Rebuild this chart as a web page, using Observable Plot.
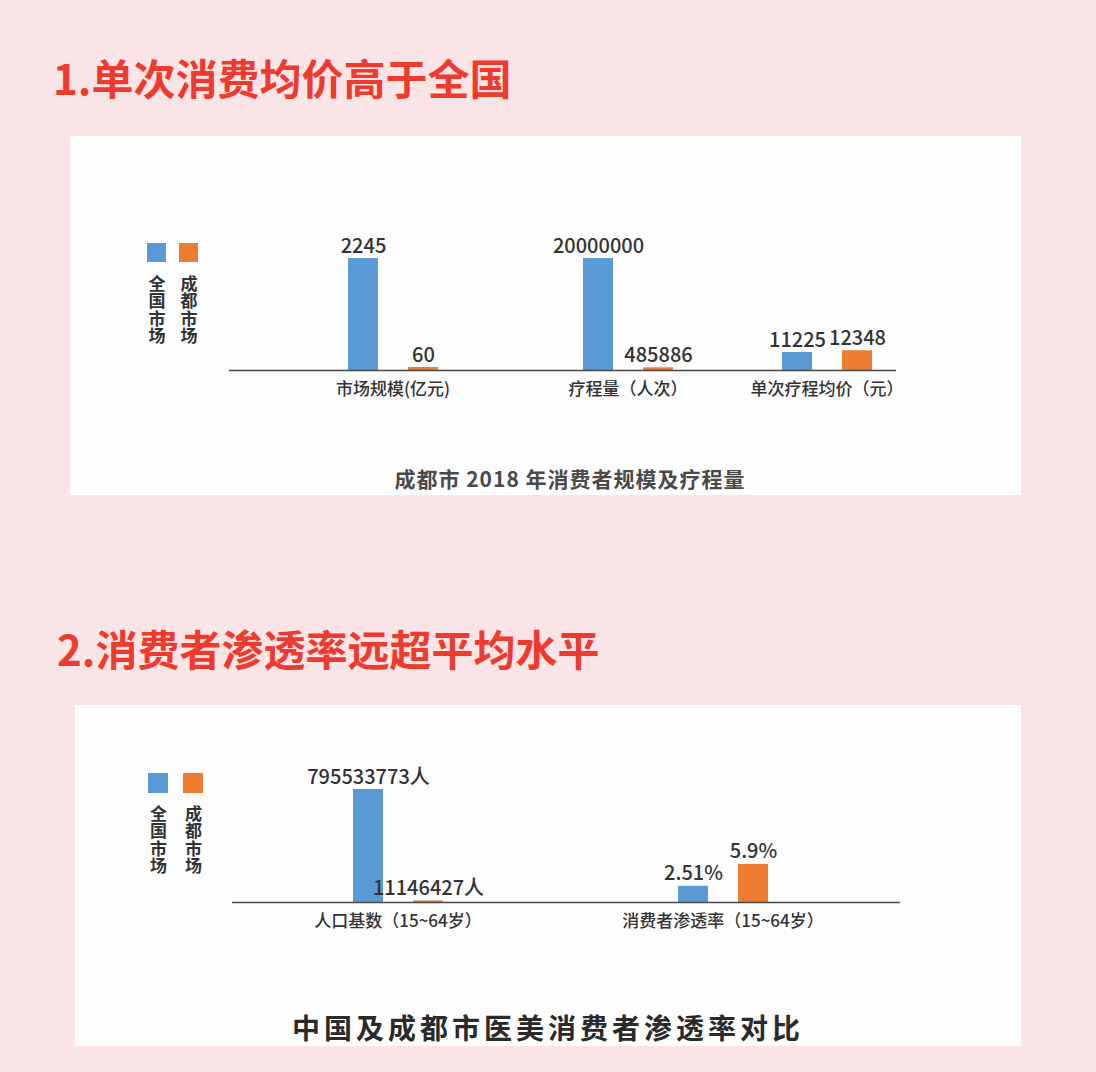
<!DOCTYPE html>
<html><head><meta charset="utf-8">
<script src="https://cdn.jsdelivr.net/npm/d3@7"></script>
<script src="https://cdn.jsdelivr.net/npm/@observablehq/plot@0.6"></script>
<style>
body{margin:0;background:#fae4e6;font-family:"Noto Sans CJK SC","Noto Sans",sans-serif;}
#page{position:relative;width:1096px;height:1072px;overflow:hidden;background:#fae4e6;}
.abs{position:absolute;}
.title{font-size:42px;font-weight:700;color:#ee3b2f;line-height:44px;white-space:nowrap;}
.panel{background:#fefdfd;}
.vt{writing-mode:vertical-rl;font-size:17px;font-weight:700;color:#333;letter-spacing:0.5px;line-height:18px;width:18px;}
.cap{text-align:center;color:#3a3a3a;white-space:nowrap;}
</style></head><body><div id="page"></div>
<script>
// ---- data ----
const series = ["全国市场", "成都市场"];
const colors = ["#5b9bd5", "#ed7d31"];

const titles = ["1.单次消费均价高于全国", "2.消费者渗透率远超平均水平"];
const captions = ["成都市 2018 年消费者规模及疗程量", "中国及成都市医美消费者渗透率对比"];

const categories1 = ["市场规模(亿元)", "疗程量（人次）", "单次疗程均价（元）"];
const national1 = [2245, 20000000, 11225];
const chengdu1 = [60, 485886, 12348];
const units1 = ["", "", ""];

const categories2 = ["人口基数（15~64岁）", "消费者渗透率（15~64岁）"];
const national2 = [795533773, 2.51];
const chengdu2 = [11146427, 5.9];
const units2 = ["人", "%"];

// per-group y-scale maxima (each group drawn on its own scale, as in the original)
const yMax1 = [2245, 20000000, 70000];
const yMax2 = [795533773, 17.5];

// ---- layout ----
const page = document.getElementById("page");
function div(cls, css, text) {
  const d = document.createElement("div");
  d.className = "abs " + cls;
  Object.assign(d.style, css);
  if (text != null) d.textContent = text;
  page.appendChild(d);
  return d;
}

div("title", {left: "53px", top: "55px"}, titles[0]);
div("title", {left: "57px", top: "626px"}, titles[1]);
div("panel", {left: "70px", top: "136px", width: "951px", height: "359px"});
div("panel", {left: "75px", top: "705px", width: "946px", height: "341px"});

function legend(x0, x1, y, size, textTop) {
  [x0, x1].forEach((x, i) => {
    div("", {left: x + "px", top: y + "px", width: size + "px", height: size + "px", background: colors[i]});
    div("vt", {left: (x + size / 2 - 9) + "px", top: textTop + "px"}, series[i]);
  });
}
legend(147, 179, 243, 19, 275);
legend(148, 183, 773, 20, 805);

div("cap", {left: "270px", top: "465px", width: "600px", fontSize: "21px", lineHeight: "26px", fontWeight: "600", letterSpacing: "1px", color: "#4a4a4a"}, captions[0]);
div("cap", {left: "248px", top: "1010px", width: "600px", fontSize: "28px", lineHeight: "34px", fontWeight: "600", letterSpacing: "4px", color: "#2a2a2a"}, captions[1]);

function drawGroup(g) {
  const rows = series.map((s, i) => ({series: s, value: g.values[i], label: String(g.values[i]) + g.unit}));
  const inner = 91, mT = 50, mB = 50;
  const mR = g.width - g.mL - inner;
  const svg = Plot.plot({
    width: g.width,
    height: mT + g.barPx + mB,
    marginLeft: g.mL, marginRight: mR, marginTop: mT, marginBottom: mB,
    x: {type: "band", domain: series, paddingInner: 0.5, paddingOuter: 0, axis: null},
    y: {domain: [0, g.yMax], axis: null},
    color: {domain: series, range: colors},
    style: {fontFamily: "'Noto Sans CJK SC','Noto Sans',sans-serif", overflow: "visible", background: "transparent"},
    marks: [
      Plot.barY(rows, {x: "series", y: "value", fill: "series"}),
      Plot.ruleY([0], {stroke: "#4a4a4a", strokeWidth: 1.5, insetLeft: -g.mL, insetRight: -mR}),
      Plot.text(rows, {x: "series", y: "value", text: "label", lineAnchor: "bottom", dy: -6, fontSize: 20, fontWeight: 500, fill: "#333"}),
      Plot.text([g.category], {frameAnchor: "bottom", text: d => d, dy: 24, fontSize: 17, fontWeight: 500, fill: "#333"})
    ]
  });
  svg.style.position = "absolute";
  svg.style.left = g.left + "px";
  svg.style.top = (g.baselineY - g.barPx - mT) + "px";
  page.appendChild(svg);
}

const layout1 = [{left: 229, width: 281, mL: 118}, {left: 510, width: 216, mL: 72}, {left: 726, width: 170, mL: 55}];
categories1.forEach((c, i) => drawGroup({
  category: c, values: [national1[i], chengdu1[i]], unit: units1[i], yMax: yMax1[i],
  ...layout1[i], barPx: 112, baselineY: 370
}));

const layout2 = [{left: 232, width: 328, mL: 120}, {left: 560, width: 340, mL: 117}];
categories2.forEach((c, i) => drawGroup({
  category: c, values: [national2[i], chengdu2[i]], unit: units2[i], yMax: yMax2[i],
  ...layout2[i], barPx: 113, baselineY: 902
}));
</script></body></html>
